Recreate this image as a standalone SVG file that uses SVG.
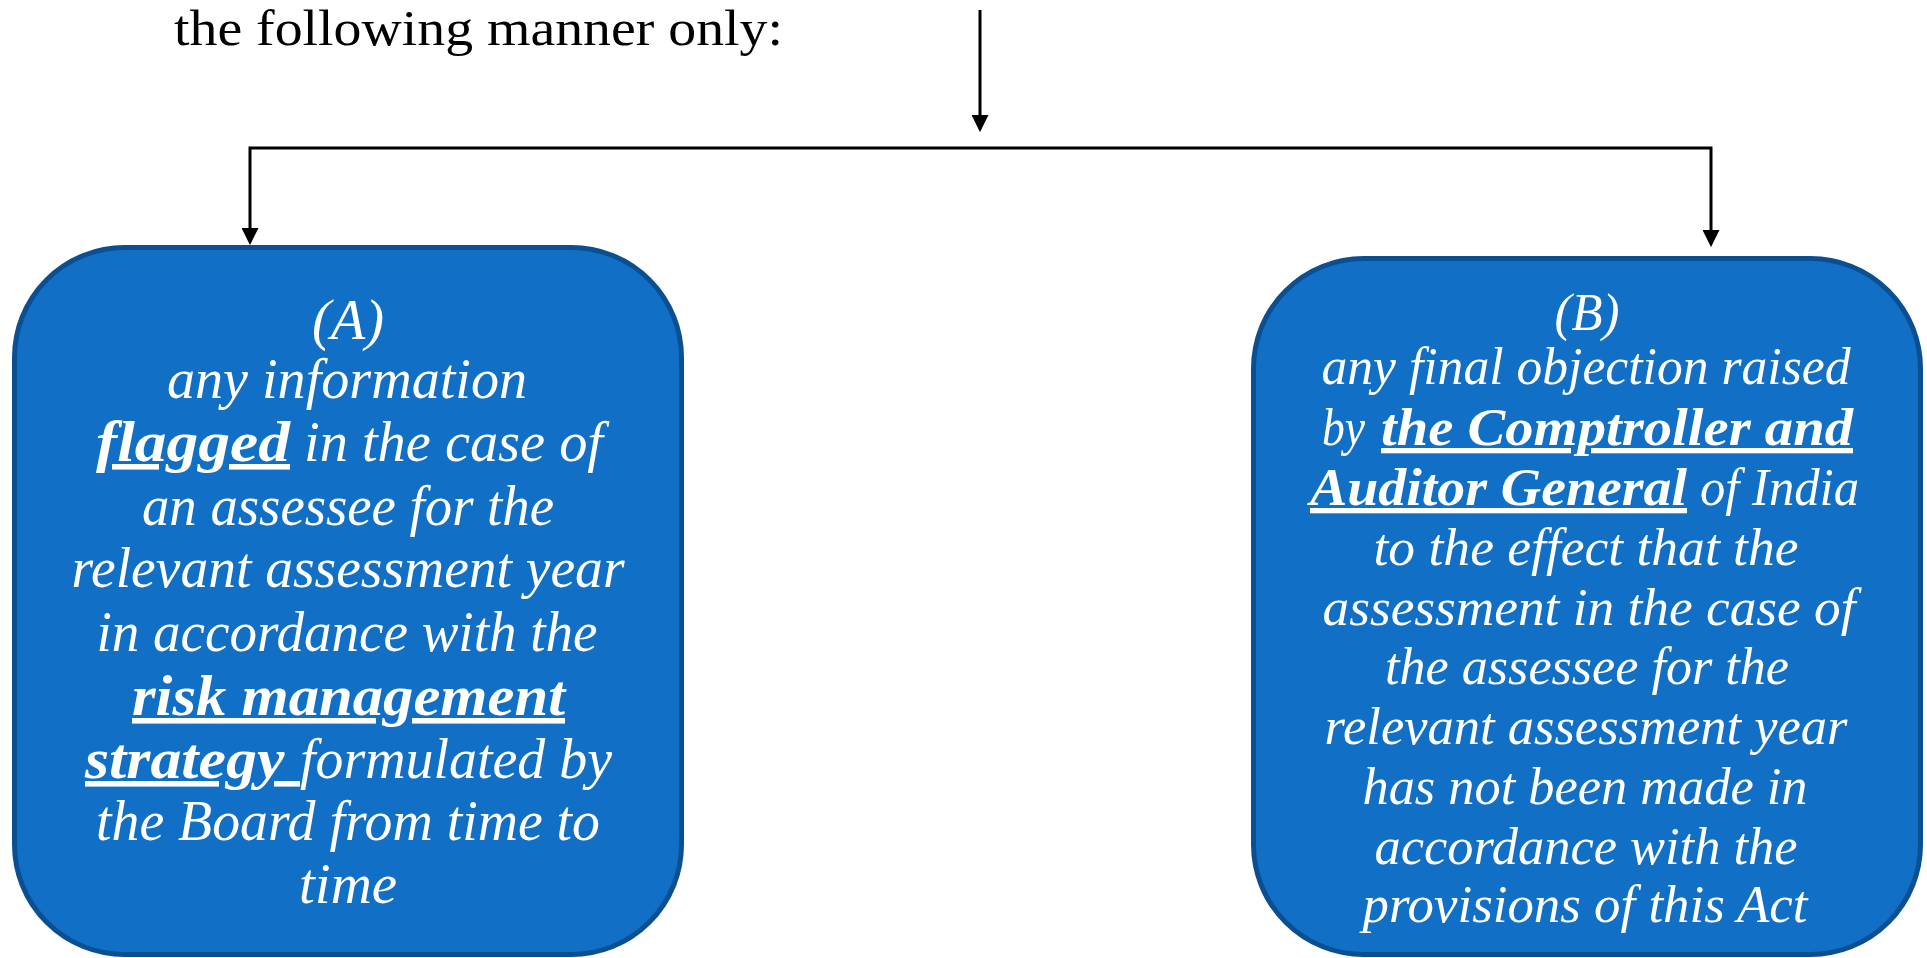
<svg xmlns="http://www.w3.org/2000/svg" width="1927" height="958" viewBox="0 0 1927 958">
<style>
.title{font-family:"Liberation Serif","Times New Roman",serif;font-size:51px;fill:#000;}
.box{fill:#1170C6;stroke:#0A4F92;stroke-width:5;}
.t{font-family:"Liberation Serif","Times New Roman",serif;font-style:italic;fill:#fff;text-anchor:middle;}
.s{text-anchor:start;}
.a{font-size:56px;}
.b{font-size:53px;}
.bu{font-weight:bold;text-decoration:underline;}
.conn{fill:none;stroke:#000;stroke-width:3;}
</style>
<defs>
<marker id="arr" viewBox="0 0 10 10" refX="7" refY="5" markerWidth="17" markerHeight="17" markerUnits="userSpaceOnUse" orient="auto">
<path d="M0,0 L10,5 L0,10 z" fill="#000"/>
</marker>
</defs>
<rect width="1927" height="958" fill="#fff"/>
<g id="title">
<text class="title" x="174" y="45" textLength="609" lengthAdjust="spacingAndGlyphs">the following manner only:</text>
</g>
<g id="connectors">
<path class="conn" d="M980 10 V127" marker-end="url(#arr)"/>
<path class="conn" d="M980 148 H250 V240" marker-end="url(#arr)"/>
<path class="conn" d="M980 148 H1711 V242" marker-end="url(#arr)"/>
</g>
<g id="nodeA">
<rect class="box" x="14.5" y="247.5" width="667" height="707" rx="110" ry="110"/>
<text class="t a" x="348" y="339" textLength="72" lengthAdjust="spacingAndGlyphs">(A)</text>
<text class="t a" x="347" y="398" textLength="360" lengthAdjust="spacingAndGlyphs">any information</text>
<text class="t a s bu" x="96" y="461" textLength="194" lengthAdjust="spacingAndGlyphs">flagged</text>
<text class="t a s" x="304" y="461" textLength="299" lengthAdjust="spacingAndGlyphs">in the case of</text>
<text class="t a" x="348" y="525" textLength="412" lengthAdjust="spacingAndGlyphs">an assessee for the</text>
<text class="t a" x="348" y="587" textLength="553" lengthAdjust="spacingAndGlyphs">relevant assessment year</text>
<text class="t a" x="347" y="651" textLength="501" lengthAdjust="spacingAndGlyphs">in accordance with the</text>
<text class="t a s bu" x="132" y="715" textLength="433" lengthAdjust="spacingAndGlyphs">risk management</text>
<text class="t a s bu" x="85" y="778" textLength="215" lengthAdjust="spacingAndGlyphs">strategy&#160;</text>
<text class="t a s" x="300" y="778" textLength="312" lengthAdjust="spacingAndGlyphs">formulated by</text>
<text class="t a" x="348" y="840" textLength="504" lengthAdjust="spacingAndGlyphs">the Board from time to</text>
<text class="t a" x="348" y="903" textLength="98" lengthAdjust="spacingAndGlyphs">time</text>
</g>
<g id="nodeB">
<rect class="box" x="1253.5" y="258.5" width="667" height="696" rx="110" ry="110"/>
<text class="t b" x="1587" y="330" textLength="65" lengthAdjust="spacingAndGlyphs">(B)</text>
<text class="t b" x="1586" y="384" textLength="529" lengthAdjust="spacingAndGlyphs">any final objection raised</text>
<text class="t b s" x="1322" y="445" textLength="43" lengthAdjust="spacingAndGlyphs">by</text>
<text class="t b s bu" x="1381" y="445" textLength="472" lengthAdjust="spacingAndGlyphs">the Comptroller and</text>
<text class="t b s bu" x="1310" y="505" textLength="377" lengthAdjust="spacingAndGlyphs">Auditor General</text>
<text class="t b s" x="1700" y="505" textLength="159" lengthAdjust="spacingAndGlyphs">of India</text>
<text class="t b" x="1586" y="565" textLength="425" lengthAdjust="spacingAndGlyphs">to the effect that the</text>
<text class="t b" x="1589" y="625" textLength="533" lengthAdjust="spacingAndGlyphs">assessment in the case of</text>
<text class="t b" x="1587" y="684" textLength="404" lengthAdjust="spacingAndGlyphs">the assessee for the</text>
<text class="t b" x="1586" y="744" textLength="523" lengthAdjust="spacingAndGlyphs">relevant assessment year</text>
<text class="t b" x="1585" y="804" textLength="445" lengthAdjust="spacingAndGlyphs">has not been made in</text>
<text class="t b" x="1586" y="864" textLength="423" lengthAdjust="spacingAndGlyphs">accordance with the</text>
<text class="t b" x="1585" y="922" textLength="445" lengthAdjust="spacingAndGlyphs">provisions of this Act</text>
</g>
</svg>
